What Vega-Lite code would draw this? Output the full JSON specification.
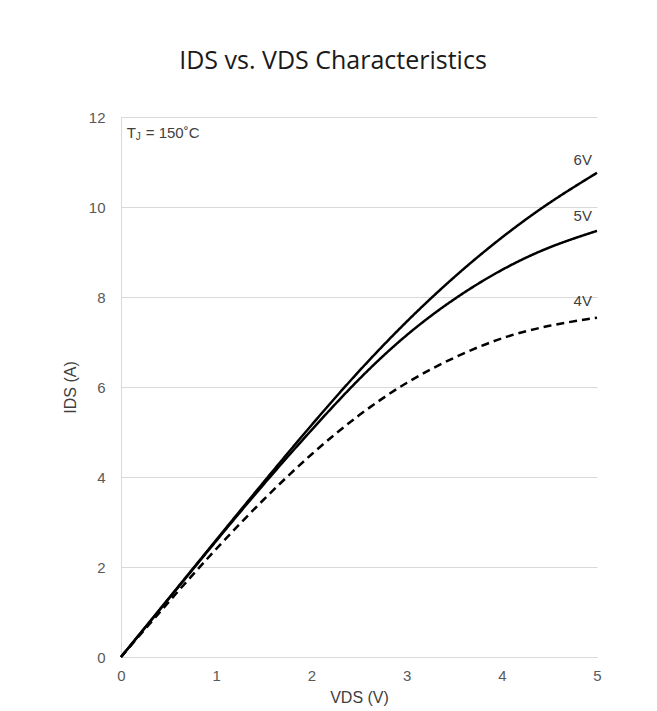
{
  "$schema": "https://vega.github.io/schema/vega-lite/v6.json",
  "width": 476,
  "height": 540,
  "autosize": "none",
  "padding": {"left": 121, "top": 117, "right": 60, "bottom": 54},
  "background": "white",
  "config": {"view": {"stroke": null}, "font": "Liberation Sans"},
  "title": {
    "text": "IDS vs. VDS Characteristics",
    "font": "Open Sans",
    "fontSize": 25,
    "fontWeight": "normal",
    "color": "#1a1a1a",
    "anchor": "middle",
    "frame": "group",
    "dx": -26,
    "offset": 36
  },
  "datasets": {
    "curves": [
      {"v": 0, "i": 0, "s": "6V"},
      {"v": 0.5, "i": 1.3, "s": "6V"},
      {"v": 1.0, "i": 2.6, "s": "6V"},
      {"v": 1.5, "i": 3.89, "s": "6V"},
      {"v": 2.0, "i": 5.15, "s": "6V"},
      {"v": 2.5, "i": 6.35, "s": "6V"},
      {"v": 3.0, "i": 7.45, "s": "6V"},
      {"v": 3.5, "i": 8.44, "s": "6V"},
      {"v": 4.0, "i": 9.32, "s": "6V"},
      {"v": 4.5, "i": 10.09, "s": "6V"},
      {"v": 5.0, "i": 10.76, "s": "6V"},
      {"v": 0, "i": 0, "s": "5V"},
      {"v": 0.5, "i": 1.29, "s": "5V"},
      {"v": 1.0, "i": 2.58, "s": "5V"},
      {"v": 1.5, "i": 3.84, "s": "5V"},
      {"v": 2.0, "i": 5.04, "s": "5V"},
      {"v": 2.5, "i": 6.17, "s": "5V"},
      {"v": 3.0, "i": 7.15, "s": "5V"},
      {"v": 3.5, "i": 7.95, "s": "5V"},
      {"v": 4.0, "i": 8.6, "s": "5V"},
      {"v": 4.5, "i": 9.1, "s": "5V"},
      {"v": 5.0, "i": 9.47, "s": "5V"},
      {"v": 0, "i": 0, "s": "4V"},
      {"v": 0.5, "i": 1.22, "s": "4V"},
      {"v": 1.0, "i": 2.4, "s": "4V"},
      {"v": 1.5, "i": 3.5, "s": "4V"},
      {"v": 2.0, "i": 4.5, "s": "4V"},
      {"v": 2.5, "i": 5.37, "s": "4V"},
      {"v": 3.0, "i": 6.09, "s": "4V"},
      {"v": 3.5, "i": 6.65, "s": "4V"},
      {"v": 4.0, "i": 7.08, "s": "4V"},
      {"v": 4.5, "i": 7.36, "s": "4V"},
      {"v": 5.0, "i": 7.54, "s": "4V"}
    ],
    "labels": [
      {"v": 4.85, "i": 11.05, "t": "6V"},
      {"v": 4.85, "i": 9.8, "t": "5V"},
      {"v": 4.85, "i": 7.92, "t": "4V"}
    ],
    "note": [
      {"v": 0.06, "i": 11.65}
    ]
  },
  "layer": [
    {
      "data": {"name": "curves"},
      "mark": {"type": "line", "strokeWidth": 2.5, "interpolate": "natural"},
      "encoding": {
        "x": {
          "field": "v", "type": "quantitative",
          "scale": {"domain": [0, 5], "nice": false},
          "axis": {
            "title": "VDS (V)", "values": [0, 1, 2, 3, 4, 5], "format": "d", "labelFlush": false,
            "grid": false, "ticks": false, "domainColor": "#d9d9d9", "domainWidth": 1,
            "labelFont": "Liberation Sans", "labelFontSize": 15, "labelColor": "#595959", "labelPadding": 11,
            "titleFont": "Liberation Sans", "titleFontSize": 16, "titleFontWeight": "normal", "titleColor": "#404040", "titlePadding": 6
          }
        },
        "y": {
          "field": "i", "type": "quantitative",
          "scale": {"domain": [0, 12], "nice": false},
          "axis": {
            "title": "IDS (A)", "values": [0, 2, 4, 6, 8, 10, 12], "format": "d", "labelFlush": false,
            "grid": true, "gridColor": "#d9d9d9", "gridWidth": 1,
            "ticks": false, "domainColor": "#d9d9d9", "domainWidth": 1,
            "labelFont": "Liberation Sans", "labelFontSize": 15, "labelColor": "#595959", "labelPadding": 16,
            "titleFont": "Liberation Sans", "titleFontSize": 16, "titleFontWeight": "normal", "titleColor": "#404040", "titlePadding": 10
          }
        },
        "detail": {"field": "s"},
        "color": {"field": "s", "type": "nominal", "scale": {"domain": ["6V", "5V", "4V"], "range": ["#000000", "#000000", "#000000"]}, "legend": null},
        "strokeDash": {"field": "s", "type": "nominal", "scale": {"domain": ["6V", "5V", "4V"], "range": [[1, 0], [1, 0], [8, 5]]}, "legend": null}
      }
    },
    {
      "data": {"name": "labels"},
      "mark": {"type": "text", "font": "Liberation Sans", "fontSize": 15, "color": "#404040", "align": "center", "baseline": "middle"},
      "encoding": {
        "x": {"field": "v", "type": "quantitative"},
        "y": {"field": "i", "type": "quantitative"},
        "text": {"field": "t"}
      }
    },
    {
      "data": {"name": "note"},
      "mark": {"type": "text", "font": "Liberation Sans", "fontSize": 15, "color": "#404040", "align": "left", "baseline": "middle", "text": "T"},
      "encoding": {
        "x": {"field": "v", "type": "quantitative"},
        "y": {"field": "i", "type": "quantitative"}
      }
    },
    {
      "data": {"name": "note"},
      "mark": {"type": "text", "font": "Liberation Sans", "fontSize": 10, "color": "#404040", "align": "left", "baseline": "middle", "text": "J", "dx": 9, "dy": 4},
      "encoding": {
        "x": {"field": "v", "type": "quantitative"},
        "y": {"field": "i", "type": "quantitative"}
      }
    },
    {
      "data": {"name": "note"},
      "mark": {"type": "text", "font": "Liberation Sans", "fontSize": 15, "color": "#404040", "align": "left", "baseline": "middle", "text": "= 150˚C", "dx": 19},
      "encoding": {
        "x": {"field": "v", "type": "quantitative"},
        "y": {"field": "i", "type": "quantitative"}
      }
    }
  ]
}
